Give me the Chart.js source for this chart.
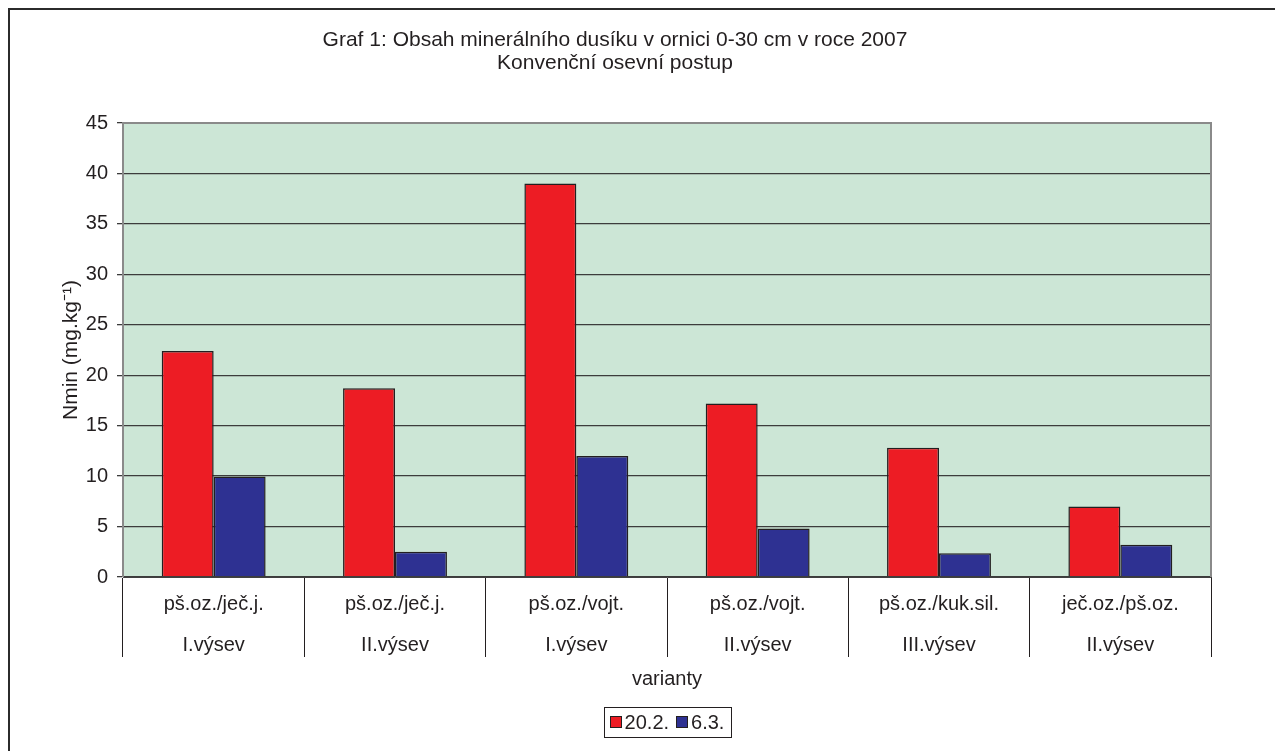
<!DOCTYPE html>
<html>
<head>
<meta charset="utf-8">
<script src="https://cdn.jsdelivr.net/npm/chart.js@4/dist/chart.umd.min.js"></script>
<style>
  html, body { margin: 0; padding: 0; background: #fff; overflow: hidden; }
  #wrap { position: relative; width: 1275px; height: 751px; }
  #frame { position: absolute; left: 8px; top: 8px; width: 1400px; height: 900px;
           border-left: 2px solid #2b2b2b; border-top: 2px solid #2b2b2b; pointer-events: none; }
</style>
</head>
<body>
<div id="wrap">
  <canvas id="chart" width="1275" height="751"></canvas>
  <div id="frame"></div>
</div>
<script>
const categories = [
    ['pš.oz./ječ.j.', 'I.výsev'],
    ['pš.oz./ječ.j.', 'II.výsev'],
    ['pš.oz./vojt.', 'I.výsev'],
    ['pš.oz./vojt.', 'II.výsev'],
    ['pš.oz./kuk.sil.', 'III.výsev'],
    ['ječ.oz./pš.oz.', 'II.výsev']
];
const seriesNames = ['20.2.', '6.3.'];
const values_20_2 = [22.4, 18.7, 39.0, 17.2, 12.8, 7.0];
const values_6_3 = [9.95, 2.5, 12.0, 4.8, 2.35, 3.2];
const yTicks = [0, 5, 10, 15, 20, 25, 30, 35, 40, 45];

const FONT = '"Liberation Sans", Arial, sans-serif';
const INK = '#231f20';

// plot background + right/top frame of the plot area
const plotFrame = {
    id: 'plotFrame',
    beforeDraw(chart) {
        const {ctx, chartArea: a} = chart;
        ctx.save();
        ctx.fillStyle = '#cce6d6';
        ctx.fillRect(a.left, a.top, a.right - a.left, a.bottom - a.top);
        ctx.restore();
    },
    afterDraw(chart) {
        const {ctx, chartArea: a} = chart;
        ctx.save();
        ctx.strokeStyle = '#8a8a8a';
        ctx.lineWidth = 2;
        ctx.beginPath();
        ctx.moveTo(a.left, a.top);
        ctx.lineTo(a.right, a.top);
        ctx.lineTo(a.right, a.bottom);
        ctx.stroke();
        ctx.restore();
    }
};

// boxed legend centred under the plot
const boxLegend = {
    id: 'boxLegend',
    afterDraw(chart) {
        const {ctx, chartArea: a} = chart;
        ctx.save();
        ctx.font = '20px ' + FONT;
        const sq = 12, gap = 3, itemGap = 7, pad = 6;
        const items = chart.data.datasets.map(ds => ({
            label: ds.label, color: ds.backgroundColor, w: ctx.measureText(ds.label).width
        }));
        let total = pad * 2 + itemGap * (items.length - 1);
        items.forEach(it => total += sq + gap + it.w);
        const h = 30, cy = 722;
        let x = (a.left + a.right) / 2 - total / 2;
        ctx.strokeStyle = INK;
        ctx.lineWidth = 1;
        ctx.strokeRect(Math.round(x) + 0.5, cy - h / 2 + 0.5, Math.round(total), h);
        x += pad;
        ctx.textBaseline = 'middle';
        items.forEach(it => {
            ctx.fillStyle = it.color;
            ctx.fillRect(Math.round(x), cy - sq / 2, sq, sq);
            ctx.strokeStyle = INK;
            ctx.strokeRect(Math.round(x) + 0.5, cy - sq / 2 + 0.5, sq - 1, sq - 1);
            x += sq + gap;
            ctx.fillStyle = INK;
            ctx.fillText(it.label, x, cy + 1);
            x += it.w + itemGap;
        });
        ctx.restore();
    }
};

const ctx = document.getElementById('chart').getContext('2d');
new Chart(ctx, {
    type: 'bar',
    data: {
        labels: categories,
        datasets: [
            {
                label: seriesNames[0],
                data: values_20_2,
                backgroundColor: '#ed1c24',
                borderColor: INK,
                borderWidth: 1.5
            },
            {
                label: seriesNames[1],
                data: values_6_3,
                backgroundColor: '#2e3192',
                borderColor: INK,
                borderWidth: 1.5
            }
        ]
    },
    options: {
        responsive: false,
        animation: false,
        devicePixelRatio: 1,
        layout: {
            padding: { left: 19, right: 64, top: 0, bottom: 57 }
        },
        datasets: {
            bar: { categoryPercentage: 0.573, barPercentage: 1.0 }
        },
        scales: {
            x: {
                grid: {
                    drawOnChartArea: false,
                    drawTicks: true,
                    tickLength: 80,
                    tickColor: INK,
                    color: INK
                },
                border: { color: '#404040', width: 1 },
                ticks: {
                    color: INK,
                    padding: -73.5,
                    maxRotation: 0,
                    autoSkip: false,
                    font: { family: FONT, size: 20, lineHeight: 2.05 }
                },
                title: {
                    display: true,
                    text: 'varianty',
                    color: INK,
                    font: { family: FONT, size: 20, lineHeight: 1.2 },
                    padding: { top: 0, bottom: 3 }
                },
                afterFit: s => { s.height = 117; }
            },
            y: {
                min: 0,
                max: 45,
                afterBuildTicks: s => { s.ticks = yTicks.map(v => ({ value: v })); },
                grid: {
                    color: c => (c.tick && c.tick.value === 45) ? '#8a8a8a' : '#3c3c3c',
                    lineWidth: 1.3,
                    tickLength: 6,
                    tickColor: '#3c3c3c'
                },
                border: { color: '#8a8a8a', width: 2 },
                ticks: {
                    color: INK,
                    padding: 9,
                    font: { family: FONT, size: 20 }
                },
                title: {
                    display: true,
                    text: 'Nmin (mg.kg⁻¹)',
                    color: INK,
                    font: { family: FONT, size: 21, lineHeight: 1.2 },
                    padding: { top: 40, bottom: 0 }
                },
                afterFit: s => { s.width = 104; }
            }
        },
        plugins: {
            legend: { display: false },
            tooltip: { enabled: false },
            title: {
                display: true,
                text: ['Graf 1: Obsah minerálního dusíku v ornici 0-30 cm v roce 2007', 'Konvenční osevní postup'],
                color: INK,
                font: { family: FONT, size: 21, weight: 'normal', lineHeight: 1.095 },
                padding: { top: 28.5, bottom: 48.5 }
            }
        }
    },
    plugins: [plotFrame, boxLegend]
});
</script>
</body>
</html>
